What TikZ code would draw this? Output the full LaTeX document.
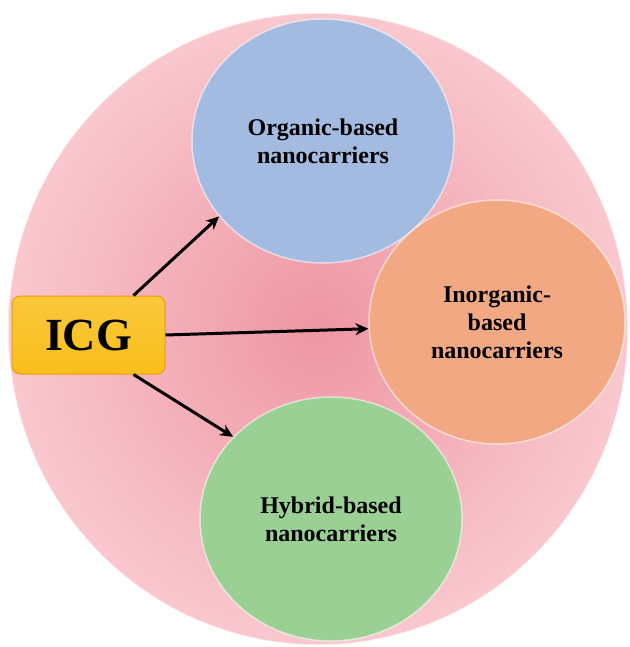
\documentclass[tikz,border=0pt]{standalone}
\usepackage{fontspec}
\setmainfont{Liberation Serif}
\usetikzlibrary{shapes.geometric, arrows.meta}

\definecolor{pinkin}{RGB}{238,150,163}
\definecolor{pinkout}{RGB}{249,200,206}
\definecolor{orgblue}{RGB}{163,187,224}
\definecolor{inorgorange}{RGB}{242,168,130}
\definecolor{hybgreen}{RGB}{154,208,148}
\definecolor{icggold}{RGB}{249,190,26}
\definecolor{icgedge}{RGB}{230,156,18}

\begin{document}
\begin{tikzpicture}[x=1pt, y=-1pt,
    carrier/.style={ellipse, minimum width=262pt, minimum height=244pt, inner sep=0pt,
        draw=white, draw opacity=0.55, line width=1.5pt, align=center,
        font=\fontsize{24}{28}\selectfont\bfseries},
    arr/.style={-{Stealth[length=13pt, width=12pt]}, line width=3pt, black}]
    \useasboundingbox (0,0) rectangle (629,647);

    % big background disc
    \node[ellipse, minimum width=620pt, minimum height=632pt, inner sep=0pt,
          inner color=pinkin, outer color=pinkout, draw=white, draw opacity=0.6,
          line width=1.5pt] (disc) at (318,329) {};

    \node[carrier, fill=orgblue] (organic) at (323,141) {Organic-based\\nanocarriers};
    \node[carrier, fill=inorgorange, minimum width=256pt] (inorganic) at (497,322) {Inorganic-\\based\\nanocarriers};
    \node[carrier, fill=hybgreen] (hybrid) at (331,519) {Hybrid-based\\nanocarriers};

    \node[rectangle, rounded corners=8pt, minimum width=153pt, minimum height=78pt,
          top color=icggold!85!white, bottom color=icggold, draw=icgedge, line width=1pt,
          font=\fontsize{46}{50}\selectfont\bfseries] (icg) at (88.5,335) {ICG};

    \draw[arr] ([xshift=-32pt]icg.north east) -- (organic.216);
    \draw[arr] (icg.east) -- (inorganic.183);
    \draw[arr] ([xshift=-32pt]icg.south east) -- (hybrid.140);
\end{tikzpicture}
\end{document}
